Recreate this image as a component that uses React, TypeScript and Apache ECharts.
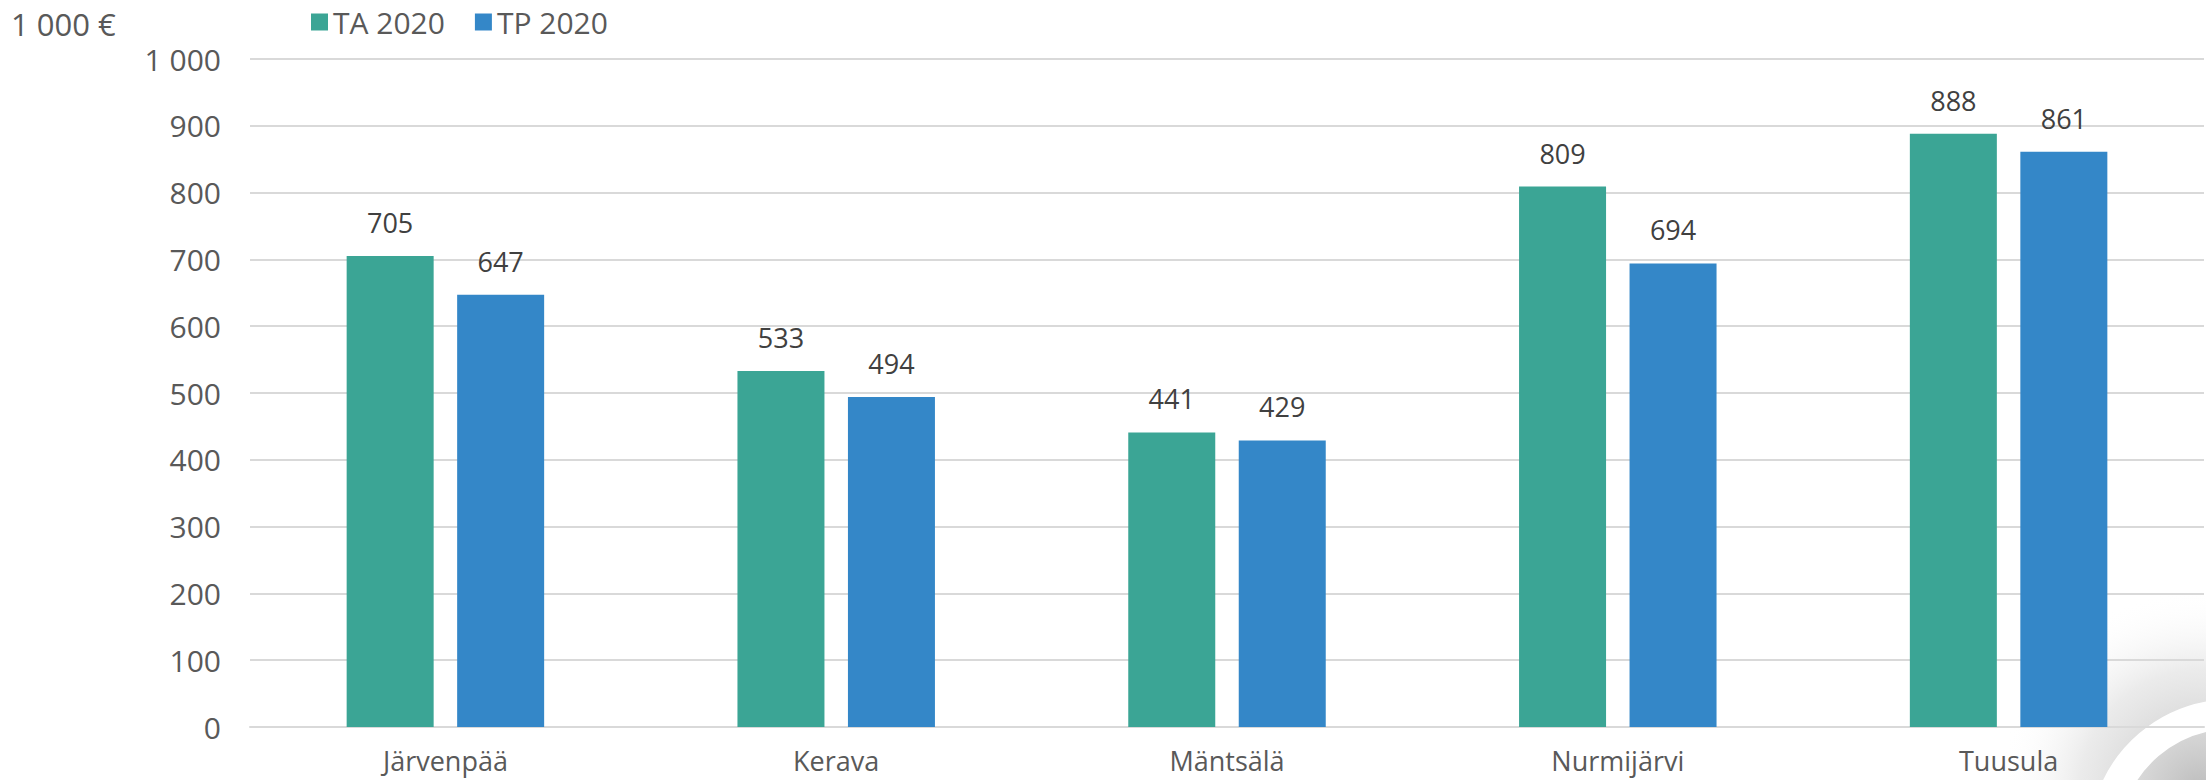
import React, { useEffect, useRef } from "react";
import * as echarts from "echarts";

const categories = ["Järvenpää", "Kerava", "Mäntsälä", "Nurmijärvi", "Tuusula"];
const seriesNames = ["TA 2020", "TP 2020"];
const ta2020 = [705, 533, 441, 809, 888];
const tp2020 = [647, 494, 429, 694, 861];
const unitLabel = "1 000 €";

const FONT = "'Open Sans', sans-serif";

export default function App() {
  const ref = useRef<HTMLDivElement>(null);
  useEffect(() => {
    document.body.style.margin = "0";
    const chart = echarts.init(ref.current!, null, { renderer: "svg" });
    const labelStyle = {
      show: true,
      position: "top" as const,
      distance: 20,
      color: "#404040",
      fontSize: 27,
      fontFamily: FONT,
    };
    chart.setOption({
      animation: false,
      backgroundColor: "#ffffff",
      textStyle: { fontFamily: FONT },
      legend: {
        left: 306,
        top: 2,
        itemWidth: 17,
        itemHeight: 17,
        itemGap: 30,
        icon: "rect",
        textStyle: { color: "#595959", fontSize: 30, fontFamily: FONT },
        data: seriesNames,
      },
      graphic: [
        {
          type: "circle",
          z: -10,
          shape: { cx: 2200, cy: 790, r: 200 },
          style: {
            fill: new echarts.graphic.RadialGradient(0.5, 0.5, 0.5, [
              { offset: 0, color: "rgba(160,160,160,0.7)" },
              { offset: 0.6, color: "rgba(205,205,205,0.4)" },
              { offset: 1, color: "rgba(255,255,255,0)" },
            ]),
          },
        },
        {
          type: "arc",
          z: -9,
          shape: { cx: 2232, cy: 842, r: 128, startAngle: Math.PI * 0.95, endAngle: Math.PI * 1.6 },
          style: { stroke: "#ffffff", lineWidth: 30, fill: "none" },
        },
        {
          type: "text",
          left: 11,
          top: 8,
          style: { text: unitLabel, fill: "#595959", fontSize: 31, fontFamily: FONT },
        },
      ],
      grid: { left: 250, right: 2, top: 59, bottom: 53, containLabel: false },
      xAxis: {
        type: "category",
        data: categories,
        axisLine: { show: true, lineStyle: { color: "#d9d9d9", width: 2 } },
        axisTick: { show: false },
        axisLabel: { color: "#595959", fontSize: 27, fontFamily: FONT, margin: 20 },
      },
      yAxis: {
        type: "value",
        min: 0,
        max: 1000,
        interval: 100,
        axisLine: { show: false },
        axisTick: { show: false },
        splitLine: { lineStyle: { color: "#d9d9d9", width: 2 } },
        axisLabel: {
          color: "#595959",
          fontSize: 30,
          fontFamily: FONT,
          margin: 29,
          formatter: (v: number) => String(v).replace(/\B(?=(\d{3})+(?!\d))/g, " "),
        },
      },
      series: [
        {
          name: seriesNames[0],
          type: "bar",
          data: ta2020,
          barWidth: 87,
          barGap: "27%",
          itemStyle: { color: "#3ba595" },
          label: labelStyle,
        },
        {
          name: seriesNames[1],
          type: "bar",
          data: tp2020,
          barWidth: 87,
          itemStyle: { color: "#3487c8" },
          label: labelStyle,
        },
      ],
    });
    return () => chart.dispose();
  }, []);
  return <div ref={ref} style={{ width: 2206, height: 780 }} />;
}
